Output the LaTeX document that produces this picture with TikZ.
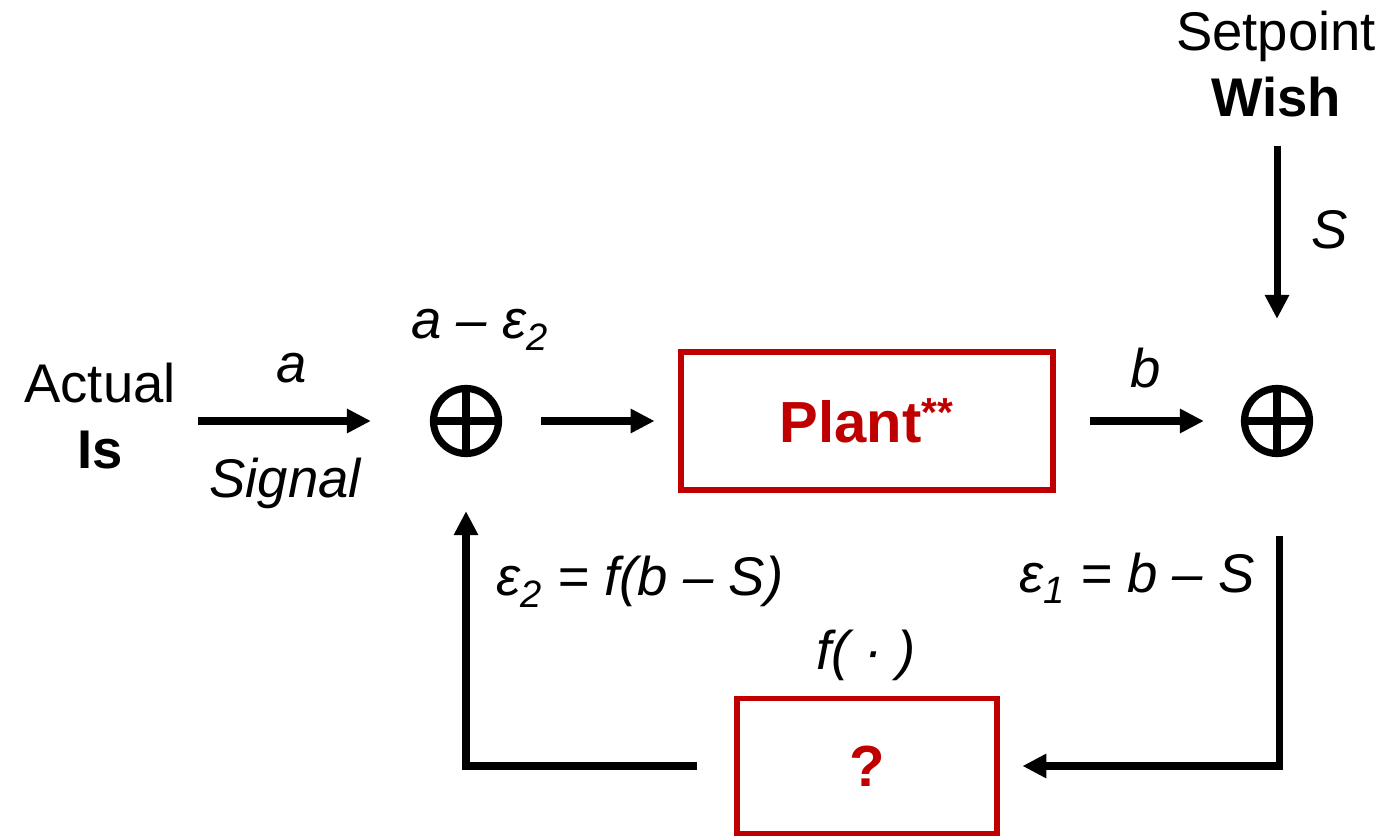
\documentclass[tikz,border=0pt]{standalone}
\usepackage{fontspec}
\setmainfont{Liberation Sans}
\usetikzlibrary{arrows.meta}
\definecolor{ink}{HTML}{000000}
\definecolor{plantred}{HTML}{C00000}
\tikzset{
  every node/.style={text=ink, inner sep=0pt, font=\fontsize{31}{38}\selectfont},
  lab/.style={font=\fontsize{31}{38}\selectfont\itshape},
  term/.style={align=center},
  blk/.style={draw=plantred, line width=3.3pt, text=plantred,
              font=\fontsize{33}{38}\selectfont\bfseries},
  sumj/.style={circle, draw=ink, line width=4.1pt, minimum size=1.3cm,
               path picture={\draw[line width=4.1pt]
                 (path picture bounding box.north) -- (path picture bounding box.south)
                 (path picture bounding box.west) -- (path picture bounding box.east);}},
  arr/.style={-{Triangle[length=4.8mm,width=4.6mm]}, draw=ink, line width=4pt},
}

\begin{document}
\begin{tikzpicture}[x=1cm,y=1cm]
\useasboundingbox (0,0) rectangle (27.74,-16.72);

% ---------------- terminals ----------------
\node[term] (act) at (2.0,-8.32) {Actual\\ \textbf{Is}};
\node[term] (sp) at (25.52,-1.28) {Setpoint\\ \textbf{Wish}};

% ---------------- blocks ----------------
\node[sumj] (s1) at (9.32,-8.42) {};
\node[blk, minimum width=7.44cm, minimum height=2.76cm] (plant) at (17.34,-8.42)
  {Plant\textsuperscript{**}};
\node[sumj] (s2) at (25.54,-8.42) {};
\node[blk, minimum width=5.2cm, minimum height=2.7cm] (fbox) at (17.34,-15.32) {?};

% ---------------- labels ----------------
\node[lab] (la) at (5.84,-7.36) {a};
\node[lab] (lsig) at (5.7,-9.66) {Signal};
\node[lab] (lsum) at (9.6,-6.6) {a – ε\textsubscript{2}};
\node[lab] (lb) at (22.92,-7.36) {b};
\node[lab] (ls) at (26.6,-4.6) {S};
\node[lab] (le1) at (22.74,-11.56) {ε\textsubscript{1} = b – S};
\node[lab] (le2) at (12.8,-11.64) {ε\textsubscript{2} = f(b – S)};
\node[lab] (lf) at (17.32,-13.1) {f( · )};

% ---------------- arrows ----------------
\draw[arr, shorten <=0.44cm, shorten >=1.18cm] (act.east |- s1) -- (s1.west);
\draw[arr, shorten <=0.78cm, shorten >=0.47cm] (s1.east) -- (plant.west);
\draw[arr, shorten <=0.69cm, shorten >=0.74cm] (plant.east) -- (s2.west);
\draw[arr, shorten <=0.56cm, shorten >=1.32cm] (sp.south -| s2) -- (s2.north);
\draw[arr, shorten <=1.58cm, shorten >=0.45cm] ([xshift=1.5pt]s2.south) |- (fbox.east);
\draw[arr, shorten <=0.75cm, shorten >=1.08cm] (fbox.west) -| (s1.south);

\end{tikzpicture}
\end{document}
